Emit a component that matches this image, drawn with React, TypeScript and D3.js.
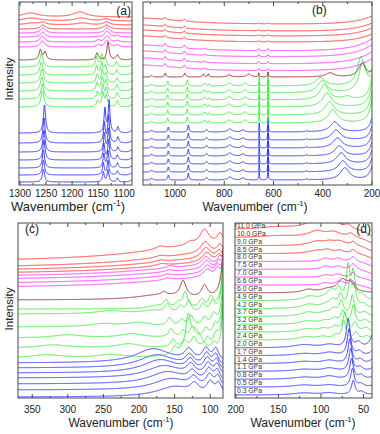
import React, { useEffect, useRef } from 'react';
import * as d3 from 'd3';

type Peak = [number, number, number]; // centre (cm-1), height, half width

const PRESSURES = ['0.3', '0.5', '0.8', '1.1', '1.4', '1.7', '2.0', '2.4', '2.8', '3.2', '3.7',
  '4.2', '4.9', '6.0', '6.6', '7.0', '7.5', '8.0', '8.5', '9.0', '10.0', '11.0'];
const PHASES = ['blue', 'blue', 'blue', 'blue', 'blue', 'blue', 'blue',
  'green', 'green', 'green', 'green', 'green', 'green', 'brown',
  'magenta', 'magenta', 'magenta', 'magenta', 'red', 'red', 'red', 'red'];
const PHASE_COLORS: Record<string, string> = {
  blue: '#2424ff', green: '#35e635', brown: '#8b2020', magenta: '#ff22ff', red: '#ff2424',
};

// ---- panel (a) 1300-1085 cm-1
const A_MAJORS = [1300, 1250, 1200, 1150, 1100];
const A_MINORS = [1275, 1225, 1175, 1125];
const A_OFFSETS = [3, 10, 17, 25, 33, 42, 52, 78, 86, 94, 102, 110, 118, 125, 138, 143, 148, 152, 156, 160, 164, 168];
const A_PEAKS: Peak[][] = [
  [[1255, 13, 2.5], [1140, 10, 2], [1131, 12, 2], [1113, 4, 2], [1087, 1.5, 3]],
  [[1255, 15, 2.5], [1140, 12, 2], [1131, 14, 2], [1113, 4, 2], [1087, 1.5, 3]],
  [[1255, 18, 2.5], [1139, 14, 2], [1131, 17, 2], [1113, 5, 2], [1087, 1.5, 3]],
  [[1254, 20, 2.5], [1139, 16, 2], [1130, 20, 2], [1113, 5, 2], [1087, 1.5, 3]],
  [[1254, 22, 2.5], [1138, 18, 2], [1130, 23, 2], [1112, 5, 2], [1087, 1.5, 3]],
  [[1254, 25, 2.5], [1138, 20, 2], [1130, 27, 2], [1112, 6, 2], [1087, 1.5, 3]],
  [[1253, 28, 2.5], [1137, 24, 2], [1129, 32, 2], [1112, 6, 2], [1087, 2, 3]],
  [[1257, 16, 3.5], [1151, 6, 2.5], [1141, 14, 2.5], [1134, 11, 2.5], [1113, 6, 2.5], [1087, 2, 3]],
  [[1257, 15, 3.5], [1151, 7, 2.5], [1141, 14, 2.5], [1134, 10, 2.5], [1113, 6, 2.5], [1087, 2, 3]],
  [[1258, 14, 3.5], [1152, 8, 2.5], [1142, 13, 2.5], [1135, 10, 2.5], [1114, 6, 2.5], [1087, 2, 3]],
  [[1258, 14, 3.5], [1152, 8, 2.5], [1142, 13, 2.5], [1135, 9, 2.5], [1114, 5, 2.5], [1087, 2, 3]],
  [[1259, 13, 3.5], [1153, 9, 2.5], [1143, 12, 2.5], [1136, 9, 2.5], [1114, 5, 2.5], [1087, 2, 3]],
  [[1259, 13, 3.5], [1153, 10, 2.5], [1143, 12, 2.5], [1136, 8, 2.5], [1115, 5, 2.5], [1087, 2, 3]],
  [[1261, 10, 3], [1252, 8, 3], [1152, 7, 3], [1131, 18, 2.5], [1113, 5, 3], [1085, 1.5, 3]],
  [[1257, 6, 5], [1150, 2, 4], [1133, 7, 5], [1113, 2, 4]],
  [[1257, 6, 5], [1150, 2, 4], [1133, 6, 5], [1113, 1.5, 4]],
  [[1256, 5, 5], [1133, 6, 5], [1113, 1.5, 4]],
  [[1256, 5, 6], [1133, 5, 6]],
  [[1256, 4, 6], [1134, 4, 7]],
  [[1275, 2, 20], [1256, 2, 6], [1180, 2, 15], [1134, 3, 7]],
  [[1278, 3, 20], [1182, 3, 15], [1136, 2, 8]],
  [[1280, 4, 18], [1185, 5, 15]],
];

// ---- panel (b) 1130-200 cm-1
const B_MAJORS = [1000, 800, 600, 400, 200];
const B_MINORS = [1100, 900, 700, 500, 300];
const B_OFFSETS = [5, 13, 21, 29, 37, 45, 53, 62, 70, 78, 85, 92, 99, 108, 113, 120, 127, 133, 142, 148, 153, 160];
const B_BLUE: Peak[] = [[1095, 2, 4], [1027, 5, 3], [946, 7, 3], [872, 2.5, 4], [777, 3, 10], [724, 2, 8],
  [658, 9, 1.5], [622, 14, 1.5], [466, 1, 4]];
const B_GREEN: Peak[] = [[1095, 2, 4], [1030, 5, 3], [950, 6, 3], [880, 3, 4], [862, 2, 3], [780, 3, 10],
  [715, 3, 8], [658, 10, 1.5], [622, 13, 1.5]];
const B_MAGENTA: Peak[] = [[1150, 7, 200], [1040, 3, 4], [962, 3, 4], [880, 1, 5], [660, 2, 3], [622, 2, 3], [150, 18, 80]];
const B_RED: Peak[] = [[1150, 7, 200], [1040, 2, 5], [962, 2, 5], [660, 1, 3], [622, 1, 3], [150, 12, 80]];
const B_PEAKS: Peak[][] = [
  [...B_BLUE, [310, 12, 22], [190, 20, 15]],
  [...B_BLUE, [318, 11, 22], [190, 20, 15]],
  [...B_BLUE, [325, 11, 22], [190, 20, 15]],
  [...B_BLUE, [333, 10, 22], [190, 20, 15]],
  [...B_BLUE, [340, 10, 22], [190, 20, 15]],
  [...B_BLUE, [346, 10, 22], [190, 20, 15]],
  [...B_BLUE, [351, 10, 22], [190, 20, 15]],
  [...B_GREEN, [359, 13, 22], [190, 35, 15]],
  [...B_GREEN, [372, 13, 22], [190, 35, 15]],
  [...B_GREEN, [383, 14, 22], [190, 35, 15]],
  [...B_GREEN, [393, 15, 22], [300, 3, 20], [190, 35, 15]],
  [...B_GREEN, [403, 12, 22], [237, 30, 18], [190, 20, 15]],
  [...B_GREEN, [410, 8, 22], [245, 28, 18], [190, 20, 15]],
  [[1095, 1.5, 4], [1040, 4, 3], [960, 4, 4], [885, 3, 4], [865, 3, 3], [780, 2, 10], [700, 3, 10],
    [660, 4, 2], [622, 5, 2], [371, 4, 20], [240, 13, 18], [190, 8, 12]],
  B_MAGENTA, B_MAGENTA, B_MAGENTA, B_MAGENTA,
  B_RED, B_RED, B_RED, B_RED,
];

// ---- panel (c) 370-82 cm-1
const C_MAJORS = [350, 300, 250, 200, 150, 100];
const C_MINORS = [325, 275, 225, 175, 125];
const C_OFFSETS = [1, 8, 14, 20, 25, 30, 35, 40, 50, 60, 71, 84, 89, 98, 110, 114, 118, 121, 124, 127, 130, 136];
const C_PEAKS: Peak[][] = [
  [[150, 10, 30], [122, 9, 7], [100, 12, 6], [88, 11, 5]],
  [[155, 11, 30], [123, 9, 7], [101, 12, 6], [89, 11, 5]],
  [[160, 12, 30], [125, 9, 7], [102, 12, 6], [90, 11, 5]],
  [[165, 12, 30], [127, 10, 7], [103, 12, 6], [90, 11, 5]],
  [[170, 13, 30], [128, 10, 7], [104, 12, 6], [91, 11, 5]],
  [[175, 13, 30], [129, 10, 7], [105, 12, 6], [92, 11, 5]],
  [[180, 14, 30], [130, 11, 7], [106, 12, 6], [92, 12, 5]],
  [[330, 3, 25], [240, 3, 25], [150, 7, 4], [131, 30, 4], [120, 25, 12], [95, 8, 4], [78, 140, 3]],
  [[320, 3, 25], [215, 4, 20], [152, 8, 4], [136, 6, 4], [123, 10, 4], [104, 8, 4], [92, 10, 4], [78, 140, 3]],
  [[300, 3, 25], [210, 4, 20], [155, 8, 4], [138, 6, 4], [125, 10, 4], [106, 8, 4], [93, 10, 4], [78, 140, 3]],
  [[250, 3, 25], [200, 4, 20], [157, 8, 4], [140, 6, 4], [127, 10, 4], [108, 8, 4], [95, 10, 4], [78, 140, 3]],
  [[240, 3, 25], [180, 3, 20], [160, 8, 4], [142, 6, 4], [130, 12, 4], [110, 8, 4], [97, 10, 4], [78, 140, 3]],
  [[175, 3, 15], [162, 7, 4], [145, 5, 4], [135, 16, 4], [112, 8, 4], [99, 10, 4], [78, 140, 3]],
  [[170, 5, 40], [165, 3, 4], [138, 16, 5], [108, 12, 5], [78, 120, 3.5]],
  [[100, 10, 120], [160, 2, 6], [104, 8, 7], [90, 8, 4], [80, 15, 4]],
  [[100, 10, 120], [160, 2, 6], [104, 8, 7], [90, 7, 4], [80, 15, 4]],
  [[100, 10, 120], [158, 2, 6], [105, 9, 7], [88, 7, 4], [80, 12, 4]],
  [[100, 11, 120], [156, 2, 6], [106, 9, 7], [87, 7, 4], [80, 10, 4]],
  [[100, 11, 120], [168, 2, 8], [105, 10, 8], [87, 8, 5]],
  [[100, 12, 120], [170, 2, 8], [106, 11, 8], [87, 8, 5]],
  [[100, 14, 120], [170, 2, 8], [107, 12, 8], [86, 9, 5]],
  [[100, 17, 120], [170, 3, 8], [128, 3, 6], [108, 15, 8], [86, 11, 5]],
];

// ---- panel (d) 201-40 cm-1
const D_MAJORS = [200, 150, 100, 50];
const D_MINORS = [175, 125, 75];
const D_OFFSETS = [3, 10.9, 18.7, 26.6, 34.4, 42.3, 50.1, 58, 65.9, 73.7, 81.6, 89.4, 97.3, 105.1,
  113, 120.9, 128.7, 136.6, 144.4, 152.3, 160.1, 168];
const D_PEAKS: Peak[][] = [
  [[120, 2, 15], [90, 2, 10], [62, 14, 2.5], [52, 3, 4], [38, 1, 4]],
  [[120, 2, 15], [90, 2, 10], [63, 18, 2.5], [53, 3, 4], [38, 2, 4]],
  [[120, 2, 15], [90, 3, 10], [64, 20, 2.5], [53, 4, 4], [38, 3, 4]],
  [[120, 2, 15], [90, 3, 10], [65, 22, 2.5], [54, 4, 4], [38, 4, 4]],
  [[120, 2, 15], [90, 3, 10], [66, 24, 2.5], [54, 4, 4], [38, 5, 4]],
  [[120, 2, 15], [90, 3, 10], [67, 26, 2.5], [55, 4, 4], [38, 6, 4]],
  [[120, 3, 15], [90, 3, 10], [68, 28, 2.5], [56, 5, 4], [38, 16, 4]],
  [[118, 3, 10], [98, 3, 8], [82, 4, 5], [73, 18, 2.5], [59, 7, 3], [46, 4, 5]],
  [[117, 3, 10], [97, 3, 8], [83, 5, 5], [72, 18, 2.5], [60, 9, 3], [47, 4, 5]],
  [[116, 3, 10], [96, 3, 8], [84, 5, 5], [74, 12, 3], [62, 18, 2.5], [48, 4, 5]],
  [[115, 4, 10], [95, 3, 8], [85, 6, 5], [76, 14, 3], [63, 20, 2.5], [49, 4, 5]],
  [[114, 4, 10], [94, 3, 8], [86, 7, 5], [77, 12, 3], [66, 24, 2.5], [61, 20, 2.5], [50, 4, 5]],
  [[113, 4, 10], [93, 3, 8], [87, 8, 5], [79, 10, 3], [68, 32, 2.5], [62, 26, 2.5], [52, 5, 5]],
  [[115, 3, 8], [92, 3, 10], [75, 12, 7], [65, 8, 5]],
  [[95, 2, 6], [78, 4, 6], [64, 5, 3], [38, -4, 10]],
  [[95, 2, 6], [80, 3, 6], [62, 5, 3], [38, -4, 10]],
  [[95, 3, 6], [80, 3, 6], [62, 6, 4], [38, -5, 10]],
  [[95, 3, 6], [80, 3, 6], [62, 5, 4], [38, -5, 10]],
  [[105, 3, 12], [92, 3, 6], [78, 3, 6], [62, 4, 4], [38, -5, 10]],
  [[105, 4, 12], [90, 3, 8], [78, 4, 8], [62, 4, 4], [38, -6, 10]],
  [[150, 2, 30], [105, 6, 12], [85, 5, 10], [65, 4, 5], [38, -6, 10]],
  [[150, 3, 30], [108, 8, 12], [85, 7, 10], [68, 4, 5], [38, -7, 10]],
];

const FONT = '"Liberation Sans", Arial, sans-serif';

const PANELS = [
  { id: 'a', domain: [1302, 1085], majors: A_MAJORS, minors: A_MINORS, offsets: A_OFFSETS, peaks: A_PEAKS,
    step: 0.25, x0: 19, x1: 132, y0: 2, y1: 185, tag: '(a)', tagX: 131, tagY: 15, tagAnchor: 'end',
    titleX: 68, titleY: 211, titleSize: 13, tickY: 197, yLabel: 79, labels: false },
  { id: 'b', domain: [1130, 200], majors: B_MAJORS, minors: B_MINORS, offsets: B_OFFSETS, peaks: B_PEAKS,
    step: 0.5, x0: 143, x1: 372, y0: 2, y1: 185, tag: '(b)', tagX: 312, tagY: 14, tagAnchor: 'start',
    titleX: 255, titleY: 211, titleSize: 12, tickY: 197, yLabel: 0, labels: false },
  { id: 'c', domain: [370, 82], majors: C_MAJORS, minors: C_MINORS, offsets: C_OFFSETS, peaks: C_PEAKS,
    step: 0.25, x0: 18, x1: 223, y0: 223, y1: 398, tag: '(c)', tagX: 25, tagY: 233, tagAnchor: 'start',
    titleX: 121, titleY: 427, titleSize: 12, tickY: 413, yLabel: 309, labels: false },
  { id: 'd', domain: [201, 40], majors: D_MAJORS, minors: D_MINORS, offsets: D_OFFSETS, peaks: D_PEAKS,
    step: 0.2, x0: 235, x1: 372, y0: 223, y1: 398, tag: '(d)', tagX: 371, tagY: 233, tagAnchor: 'end',
    titleX: 303, titleY: 427, titleSize: 12, tickY: 413, yLabel: 0, labels: true },
];

const lorentz = (w: number, peaks: Peak[]) =>
  peaks.reduce((s, [c, h, hw]) => s + h / (1 + ((w - c) / hw) ** 2), 0);

const App = () => {
  const ref = useRef<SVGSVGElement>(null);

  useEffect(() => {
    const svg = d3.select(ref.current);
    svg.selectAll('*').remove();

    PANELS.forEach((p) => {
      const x = d3.scaleLinear().domain(p.domain).range([p.x0, p.x1]);
      const y = d3.scaleLinear().domain([0, p.y1 - p.y0]).range([p.y1, p.y0]);
      const lo = Math.min(p.domain[0], p.domain[1]);
      const hi = Math.max(p.domain[0], p.domain[1]);
      const grid = d3.range(lo, hi + p.step / 2, p.step);

      svg.append('clipPath').attr('id', 'clip-' + p.id)
        .append('rect').attr('x', p.x0).attr('y', p.y0)
        .attr('width', p.x1 - p.x0).attr('height', p.y1 - p.y0);

      const g = svg.append('g').attr('clip-path', `url(#clip-${p.id})`);
      const line = d3.line<[number, number]>().x((d) => x(d[0])).y((d) => y(d[1]));

      p.offsets.forEach((off, i) => {
        const pts = grid.map((w) => [w, off + lorentz(w, p.peaks[i])] as [number, number]);
        g.append('path').attr('d', line(pts))
          .attr('fill', 'none').attr('stroke', PHASE_COLORS[PHASES[i]])
          .attr('stroke-width', 0.9).attr('stroke-linejoin', 'round');
      });

      // pressure labels on panel (d), sitting just above each trace's left end
      if (p.labels) {
        p.offsets.forEach((off, i) => {
          svg.append('text').attr('x', p.x0 + 2).attr('y', y(off) - 2)
            .attr('font-family', FONT).attr('font-size', 6.8).attr('fill', '#333')
            .text(`${PRESSURES[i]} GPa`);
        });
      }

      // frame
      svg.append('rect').attr('x', p.x0).attr('y', p.y0)
        .attr('width', p.x1 - p.x0).attr('height', p.y1 - p.y0)
        .attr('fill', 'none').attr('stroke', '#4a4a4a').attr('stroke-width', 1);

      // inward ticks, top and bottom
      const ticks = svg.append('g').attr('stroke', '#4a4a4a').attr('stroke-width', 1);
      [[p.majors, 4], [p.minors, 2]].forEach(([vals, len]) => {
        (vals as number[]).forEach((v) => {
          const xv = x(v);
          ticks.append('line').attr('x1', xv).attr('x2', xv).attr('y1', p.y1).attr('y2', p.y1 - (len as number));
          ticks.append('line').attr('x1', xv).attr('x2', xv).attr('y1', p.y0).attr('y2', p.y0 + (len as number));
        });
      });

      svg.append('g').selectAll('text').data(p.majors).join('text')
        .attr('x', (d) => x(d)).attr('y', p.tickY)
        .attr('text-anchor', 'middle').attr('font-family', FONT).attr('font-size', 10)
        .attr('fill', '#222').text((d) => d);

      const title = svg.append('text').attr('x', p.titleX).attr('y', p.titleY)
        .attr('text-anchor', 'middle').attr('font-family', FONT)
        .attr('font-size', p.titleSize).attr('fill', '#222');
      title.append('tspan').text('Wavenumber (cm');
      title.append('tspan').attr('dy', -p.titleSize * 0.38).attr('font-size', p.titleSize * 0.65).text('-1');
      title.append('tspan').attr('dy', p.titleSize * 0.38).text(')');

      svg.append('text').attr('x', p.tagX).attr('y', p.tagY).attr('text-anchor', p.tagAnchor)
        .attr('font-family', FONT).attr('font-size', 12).attr('fill', '#222').text(p.tag);

      if (p.yLabel) {
        svg.append('text').attr('transform', `translate(13,${p.yLabel}) rotate(-90)`)
          .attr('text-anchor', 'middle').attr('font-family', FONT).attr('font-size', 11.5)
          .attr('fill', '#222').text('Intensity');
      }
    });
  }, []);

  return (
    <svg ref={ref} width={380} height={434}
      style={{ position: 'absolute', left: 0, top: 0, display: 'block', background: '#fff' }} />
  );
};

export default App;
